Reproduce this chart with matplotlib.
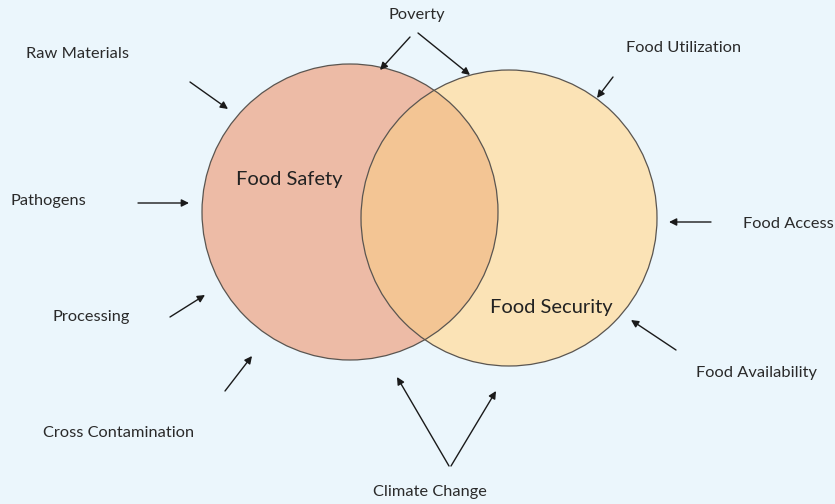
import matplotlib.pyplot as plt
from matplotlib.patches import Circle

# circles (pixel coords, y down)
circle_names = ["Food Safety", "Food Security"]
circle_centers = [(350, 212), (509, 218)]
circle_radius = [148, 148]
circle_colors = ["#EDBBA6", "#FBE3B6"]
overlap_color = "#F3C594"
bg_color = "#EBF6FC"

circle_label_pos = [(289, 180), (551, 308)]

# factor labels and their arrows
factor_labels = ["Raw Materials", "Pathogens", "Processing", "Cross Contamination",
                 "Poverty", "Food Utilization", "Food Access", "Food Availability",
                 "Climate Change"]
factor_pos = [(77, 54), (48, 201), (91, 317), (119, 433),
              (417, 15), (684, 48), (788, 224), (756, 373), (430, 492)]
factor_arrows = [
    [((190, 82), (228, 109))],
    [((138, 203), (189, 203))],
    [((170, 317), (205, 295))],
    [((225, 391), (252, 356))],
    [((410, 37), (380, 70)), ((418, 33), (470, 75))],
    [((613, 77), (597, 98))],
    [((711, 222), (669, 222))],
    [((676, 350), (631, 320))],
    [((449, 466), (397, 377)), ((451, 466), (496, 391))],
]

fig = plt.figure(figsize=(8.35, 5.04), dpi=100)
fig.patch.set_facecolor(bg_color)
ax = fig.add_axes([0, 0, 1, 1])
ax.set_xlim(0, 835)
ax.set_ylim(504, 0)
ax.set_aspect("equal")
ax.axis("off")

circles = []
for c, r, col in zip(circle_centers, circle_radius, circle_colors):
    p = Circle(c, r, facecolor=col, edgecolor="none", zorder=1)
    ax.add_patch(p)
    circles.append(p)

# overlap region: second circle shape clipped by the first
ov = Circle(circle_centers[1], circle_radius[1], facecolor=overlap_color,
            edgecolor="none", zorder=2)
ax.add_patch(ov)
ov.set_clip_path(circles[0])

for c, r in zip(circle_centers, circle_radius):
    ax.add_patch(Circle(c, r, facecolor="none", edgecolor="#5a5550",
                        lw=0.9, zorder=3))

for name, pos in zip(circle_names, circle_label_pos):
    ax.text(pos[0], pos[1], name, fontsize=14.5, family="Lato",
            ha="center", va="center", color="#222222", zorder=4)

for lab, pos, arrs in zip(factor_labels, factor_pos, factor_arrows):
    ax.text(pos[0], pos[1], lab, fontsize=11.8, family="Lato",
            ha="center", va="center", color="#2a2a2a", zorder=4)
    for start, end in arrs:
        ax.annotate("", xy=end, xytext=start,
                    arrowprops=dict(arrowstyle="-|>", color="#1a1a1a", lw=1.0,
                                    mutation_scale=11, shrinkA=0, shrinkB=0),
                    zorder=4)

fig.savefig("out.png", dpi=100, facecolor=bg_color)
